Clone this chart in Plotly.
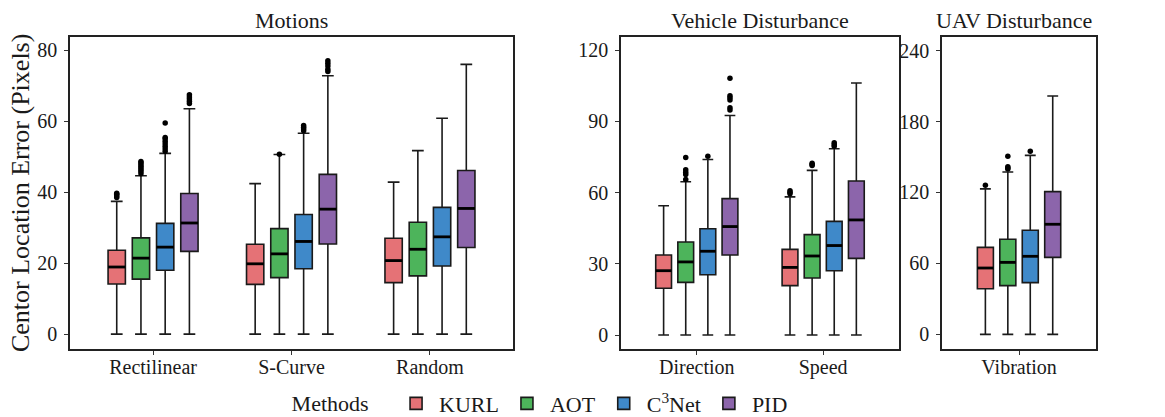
import plotly.graph_objects as go

# ---------------- data ----------------
methods = ["KURL", "AOT", "C<sup>3</sup>Net", "PID"]
colors = ["#E57276", "#4DB45B", "#3F89C9", "#8C65AB"]

motion_cats = ["Rectilinear", "S-Curve", "Random"]
vehicle_cats = ["Direction", "Speed"]
uav_cats = ["Vibration"]

# per method: values for each category  (q1, median, q3, lower, upper)
motion_q1 = {"KURL": [14.1, 14.0, 14.5], "AOT": [15.5, 15.9, 16.4], "C3Net": [18.0, 18.4, 19.2], "PID": [23.3, 25.4, 24.4]}
motion_med = {"KURL": [18.9, 19.8, 20.7], "AOT": [21.4, 22.6, 23.9], "C3Net": [24.5, 26.1, 27.4], "PID": [31.3, 35.2, 35.4]}
motion_q3 = {"KURL": [23.6, 25.3, 27.0], "AOT": [27.1, 29.7, 31.5], "C3Net": [31.2, 33.7, 35.7], "PID": [39.6, 45.0, 46.1]}
motion_lo = {"KURL": [0, 0, 0], "AOT": [0, 0, 0], "C3Net": [0, 0, 0], "PID": [0, 0, 0]}
motion_hi = {"KURL": [37.4, 42.4, 42.8], "AOT": [44.6, 50.6, 51.7], "C3Net": [50.9, 56.6, 60.8], "PID": [63.5, 72.8, 76.0]}
motion_out = {
    "KURL": [[38.5, 39.0, 39.4, 39.7], [], []],
    "AOT": [[45.2, 45.8, 46.3, 46.8, 47.3, 47.8, 48.3, 48.6], [50.7], []],
    "C3Net": [[51.5, 52.2, 52.9, 53.6, 54.3, 55.0, 55.4, 59.5], [57.3, 57.8, 58.3, 58.8], []],
    "PID": [[65.0, 65.6, 66.2, 66.8, 67.4], [74.0, 74.6, 75.5, 76.3, 77.0], []],
}

vehicle_q1 = {"KURL": [19.7, 20.8], "AOT": [22.2, 24.0], "C3Net": [25.4, 27.1], "PID": [33.7, 32.3]}
vehicle_med = {"KURL": [27.1, 28.5], "AOT": [30.8, 33.3], "C3Net": [35.3, 37.7], "PID": [45.7, 48.5]}
vehicle_q3 = {"KURL": [33.7, 36.1], "AOT": [39.2, 42.3], "C3Net": [44.8, 47.9], "PID": [57.5, 64.9]}
vehicle_lo = {"KURL": [0, 0], "AOT": [0, 0], "C3Net": [0, 0], "PID": [0, 0]}
vehicle_hi = {"KURL": [54.5, 58.2], "AOT": [64.6, 69.4], "C3Net": [74.0, 78.5], "PID": [92.5, 106.2]}
vehicle_out = {
    "KURL": [[], [59.5, 60.2, 60.8]],
    "AOT": [[65.5, 67.6, 68.6, 69.6, 74.8], [71.4, 71.9, 72.4]],
    "C3Net": [[75.3], [79.6, 80.3, 81.0]],
    "PID": [[94.8, 95.8, 99.0, 100.0, 100.8, 108.2], []],
}

uav_q1 = {"KURL": [38.6], "AOT": [41.2], "C3Net": [43.7], "PID": [65.1]}
uav_med = {"KURL": [56.1], "AOT": [60.9], "C3Net": [66.0], "PID": [93.1]}
uav_q3 = {"KURL": [73.6], "AOT": [80.4], "C3Net": [88.0], "PID": [120.7]}
uav_lo = {"KURL": [0], "AOT": [0], "C3Net": [0], "PID": [0]}
uav_hi = {"KURL": [123.0], "AOT": [137.3], "C3Net": [151.4], "PID": [201.6]}
uav_out = {
    "KURL": [[126.0]],
    "AOT": [[139.8, 140.8, 141.8, 150.6]],
    "C3Net": [[154.8]],
    "PID": [[]],
}

motion_ticks = [0, 20, 40, 60, 80]
vehicle_ticks = [0, 30, 60, 90, 120]
uav_ticks = [0, 60, 120, 180, 240]

titles = ["Motions", "Vehicle Disturbance", "UAV Disturbance"]
keys = ["KURL", "AOT", "C3Net", "PID"]

# ---------------- layout helpers ----------------
FONT = "Liberation Serif, Times New Roman, serif"
offsets = [-0.2625, -0.0875, 0.0875, 0.2625]
BW = 0.125

panels = [
    (motion_cats, motion_q1, motion_med, motion_q3, motion_lo, motion_hi, motion_out, motion_ticks, [-4.2, 83.7], [0.0, 0.4318]),
    (vehicle_cats, vehicle_q1, vehicle_med, vehicle_q3, vehicle_lo, vehicle_hi, vehicle_out, vehicle_ticks, [-5.9, 125.6], [0.537, 0.808]),
    (uav_cats, uav_q1, uav_med, uav_q3, uav_lo, uav_hi, uav_out, uav_ticks, [-12.4, 251.5], [0.850, 1.0]),
]

fig = go.Figure()
layout_axes = {}
for pi, (cats, q1, med, q3, lo, hi, outl, ticks, yr, dom) in enumerate(panels):
    xa = "x" if pi == 0 else f"x{pi+1}"
    ya = "y" if pi == 0 else f"y{pi+1}"
    for mi, k in enumerate(keys):
        xs = [i + 1 + offsets[mi] for i in range(len(cats))]
        fig.add_trace(go.Box(
            x=xs, q1=q1[k], median=med[k], q3=q3[k],
            lowerfence=lo[k], upperfence=hi[k],
            width=BW, whiskerwidth=0.68,
            fillcolor=colors[mi], line=dict(color="#1a1a1a", width=1.6),
            boxpoints=False, name=methods[mi], legendgroup=k,
            showlegend=(pi == 0), xaxis=xa, yaxis=ya, hoverinfo="skip",
        ))
        # thicker median lines
        mx, my = [], []
        for i, x in enumerate(xs):
            mx += [x - BW / 2, x + BW / 2, None]
            my += [med[k][i], med[k][i], None]
        fig.add_trace(go.Scatter(x=mx, y=my, mode="lines", line=dict(color="black", width=2.8),
                                 showlegend=False, xaxis=xa, yaxis=ya, hoverinfo="skip"))
        # outliers
        ox, oy = [], []
        for i, x in enumerate(xs):
            for v in outl[k][i]:
                ox.append(x)
                oy.append(v)
        if ox:
            fig.add_trace(go.Scatter(x=ox, y=oy, mode="markers", marker=dict(color="black", size=5.5),
                                     showlegend=False, xaxis=xa, yaxis=ya, hoverinfo="skip"))
    axname = "xaxis" if pi == 0 else f"xaxis{pi+1}"
    ayname = "yaxis" if pi == 0 else f"yaxis{pi+1}"
    layout_axes[axname] = dict(
        domain=dom, range=[0.4, len(cats) + 0.6], tickvals=list(range(1, len(cats) + 1)),
        ticktext=cats, showline=True, mirror=True, linecolor="#222", linewidth=1.6,
        ticks="outside", ticklen=4, tickcolor="#333", showgrid=False, zeroline=False,
        anchor=ya, ticklabelstandoff=-5,
        tickfont=dict(family=FONT, size=20, color="#1a1a1a"),
    )
    layout_axes[ayname] = dict(
        range=yr, tickvals=ticks, showline=True, mirror=True, linecolor="#222", linewidth=1.6,
        ticks="outside", ticklen=4, tickcolor="#333", showgrid=False, zeroline=False,
        anchor=xa, ticklabelstandoff=3,
        tickfont=dict(family=FONT, size=20, color="#1a1a1a"),
    )

title_x = [(0.0 + 0.4318) / 2, (0.537 + 0.808) / 2, 0.920]
annotations = []
for t, x in zip(titles, title_x):
    annotations.append(dict(text=t, x=x, y=1.0, xref="paper", yref="paper", xanchor="center",
                            yanchor="bottom", yshift=2, showarrow=False,
                            font=dict(family=FONT, size=22, color="#1a1a1a")))
annotations.append(dict(text="Centor Location Error (Pixels)", x=-0.0487, y=0.5, xref="paper", yref="paper",
                        textangle=-90, showarrow=False, xanchor="center", yanchor="middle",
                        font=dict(family=FONT, size=26, color="#1a1a1a")))

fig.update_layout(
    width=1165, height=417,
    margin=dict(l=70, r=69, t=37, b=68, autoexpand=False),
    plot_bgcolor="white", paper_bgcolor="white",
    annotations=annotations,
    legend=dict(orientation="h", x=0.214, y=-0.175, xanchor="left", yanchor="middle",
                bgcolor="rgba(0,0,0,0)", itemwidth=36,
                title=dict(text="Methods\u00a0\u00a0\u00a0", side="left", font=dict(family=FONT, size=22, color="#1a1a1a")),
                font=dict(family=FONT, size=22, color="#1a1a1a")),
    **layout_axes,
)

fig.write_html("out.html", config={"displayModeBar": False},
               post_script="document.body.style.margin='0';document.body.style.overflow='hidden';")
